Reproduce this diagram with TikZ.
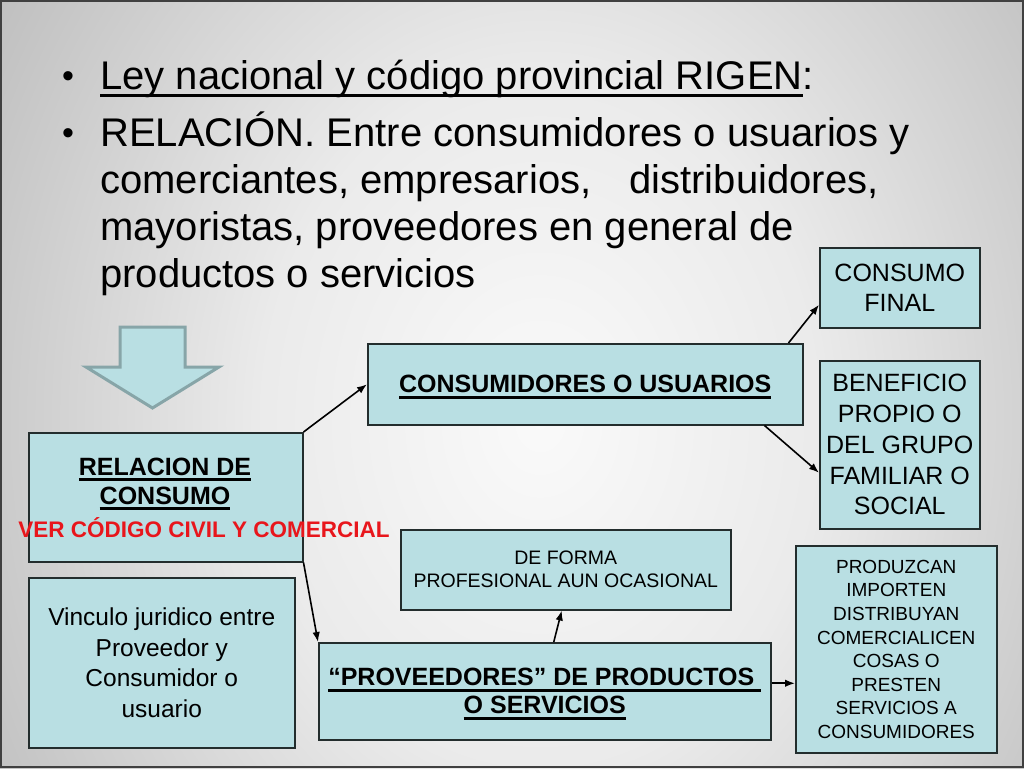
\documentclass[tikz,border=0pt]{standalone}
\usepackage{fontspec}
\setmainfont{Liberation Sans}
\usetikzlibrary{arrows.meta,calc}
\definecolor{boxfill}{RGB}{185,223,227}
\definecolor{boxline}{RGB}{35,45,45}
\definecolor{arrowline}{RGB}{135,165,168}
\definecolor{redtxt}{RGB}{232,22,28}
\definecolor{bgA}{gray}{0.98}
\definecolor{bgB}{gray}{0.92}
\definecolor{bgC}{gray}{0.75}
\definecolor{bgD}{gray}{0.56}
\definecolor{bgE}{gray}{0.50}
\definecolor{framecol}{gray}{0.25}
\pgfdeclareradialshading{bgshade}{\pgfpoint{0bp}{0bp}}{color(0bp)=(bgA); color(7bp)=(bgB); color(16bp)=(bgC); color(25bp)=(bgD); color(50bp)=(bgE)}
\newsavebox\ulbox
\newcommand\myul[3]{\sbox\ulbox{#3}\rlap{\smash{\rule[-#1]{\wd\ulbox}{#2}}}\usebox\ulbox}
\newcommand\ult[1]{\myul{7.5pt}{2.5pt}{#1}}
\newcommand\ulb[1]{\myul{5.7pt}{3pt}{#1}}
\tikzset{
  titletxt/.style={font=\fontsize{40}{47}\selectfont, anchor=base west, inner sep=0pt},
  bullettxt/.style={font=\fontsize{34}{40}\selectfont, anchor=base, inner sep=0pt},
  box/.style={draw=boxline, fill=boxfill, line width=1.5pt, inner sep=0pt, anchor=north west, align=center},
  arr/.style={-{Latex[length=10pt,width=7.5pt]}, line width=1.6pt, draw=black},
  bigarrow/.style={fill=boxfill, draw=arrowline, line width=3pt, line join=miter},
}
\begin{document}
\begin{tikzpicture}[x=1pt,y=-1pt]
\useasboundingbox (0,0) rectangle (1024,768);
\begin{scope}
  \clip (0,0) rectangle (1024,768);
  \shade[shading=bgshade] (540,420) ellipse [x radius=1000pt, y radius=1240pt];
\end{scope}
\draw[framecol, line width=2pt] (1,1) rectangle (1023,767);

% bullet text
\node[bullettxt] (b1) at (68,87) {•};
\node[titletxt] (l1) at (100,89) {\ult{Ley nacional y código provincial RIGEN}:};
\node[bullettxt] (b2) at (68,144) {•};
\node[titletxt] (l2) at (100,146) {RELACIÓN. Entre consumidores o usuarios y};
\node[titletxt] (l3) at (100,193) {comerciantes, empresarios,\hspace{38pt}distribuidores,};
\node[titletxt] (l4) at (100,240) {mayoristas, proveedores en general de};
\node[titletxt] (l5) at (100,287) {productos o servicios};

% big down arrow
\draw[bigarrow] (120,327) -- (185,327) -- (185,367) -- (219,367) -- (152.5,408) -- (86,367) -- (120,367) -- cycle;

% boxes
\node[box, minimum width=274pt, minimum height=129pt] (rel) at (28,432) {};
\node[anchor=center, inner sep=0pt, align=center, font=\bfseries\fontsize{25}{29}\selectfont] (reltxt) at (165,481.4)
  {\ulb{RELACION DE}\\\ulb{CONSUMO}};
\node[anchor=base, inner sep=0pt, text=redtxt, font=\bfseries\fontsize{22.5}{27}\selectfont] (ver) at (204,537)
  {VER CÓDIGO CIVIL Y COMERCIAL};

\node[box, minimum width=435pt, minimum height=81pt, font=\bfseries\fontsize{25}{29}\selectfont] (cons) at (367,343)
  {\ulb{CONSUMIDORES O USUARIOS}};
\node[box, minimum width=160pt, minimum height=80pt, font=\fontsize{25}{30}\selectfont] (final) at (819,247)
  {CONSUMO\\FINAL};
\node[box, minimum width=160pt, minimum height=168pt, font=\fontsize{25}{30.75}\selectfont] (benef) at (819,360)
  {BENEFICIO\\PROPIO O\\DEL GRUPO\\FAMILIAR O\\SOCIAL};
\node[box, minimum width=330pt, minimum height=80pt, font=\fontsize{19.5}{23}\selectfont] (deforma) at (400,529)
  {DE FORMA\\PROFESIONAL AUN OCASIONAL};
\node[box, minimum width=452pt, minimum height=97pt, font=\bfseries\fontsize{25}{28}\selectfont] (prov) at (318,642)
  {\ulb{“PROVEEDORES” DE PRODUCTOS\ }\\\ulb{O SERVICIOS}};
\node[box, minimum width=201pt, minimum height=207pt, font=\fontsize{19}{23.6}\selectfont] (produz) at (795,545)
  {PRODUZCAN\\IMPORTEN\\DISTRIBUYAN\\COMERCIALICEN\\COSAS O\\PRESTEN\\SERVICIOS A\\CONSUMIDORES};
\node[box, minimum width=266pt, minimum height=170pt, font=\fontsize{24.5}{30.7}\selectfont] (vinc) at (28,577)
  {Vinculo juridico entre\\Proveedor y\\Consumidor o\\usuario};

% connectors
\draw[arr] (rel.north east) -- (cons.west);
\draw[arr] (rel.south east) -- (prov.north west);
\draw[arr] ([xshift=-15pt]cons.north east) -- ([yshift=-17pt]final.west);
\draw[arr] ([xshift=-39pt]cons.south east) -- ([yshift=-28pt]benef.west);
\draw[arr] ([xshift=9pt]prov.north) -- ([xshift=-4pt]deforma.south);
\draw[arr] ([yshift=8pt]prov.east) coordinate (pe) -- (produz.west |- pe);
\end{tikzpicture}
\end{document}
